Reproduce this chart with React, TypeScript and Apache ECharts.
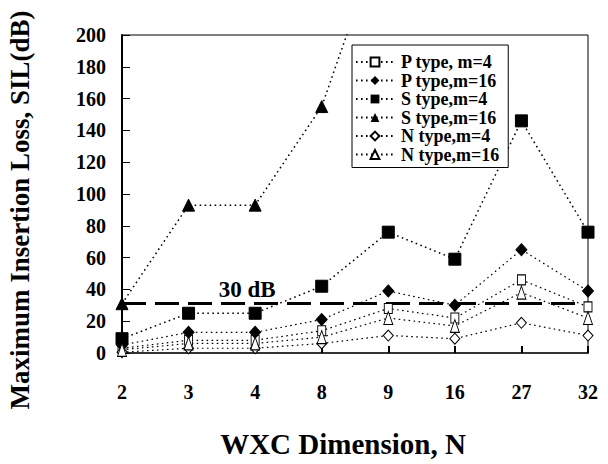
import React, { useEffect, useRef } from "react";
import * as echarts from "echarts";

const categories = ["2", "3", "4", "8", "9", "16", "27", "32"];
const pTypeM4 = [3, 8, 8, 14, 28, 22, 46, 29];
const pTypeM16 = [5, 13, 13, 21, 39, 30, 65, 39];
const sTypeM4 = [9, 25, 25, 42, 76, 59, 146, 76];
const sTypeM16 = [31, 93, 93, 155, 275, null, null, null];
const nTypeM4 = [0.5, 3, 3, 6, 11, 9, 19, 11];
const nTypeM16 = [2, 6, 6, 10, 22, 17, 38, 22];
const yTicks = { min: 0, max: 200, interval: 20 };
const thresholdValue = 31;
const thresholdLabel = "30 dB";

const FONT = "Liberation Serif, serif";

export default function App() {
  const ref = useRef<HTMLDivElement>(null);
  useEffect(() => {
    if (!ref.current) return;
    const chart = echarts.init(ref.current, null, { renderer: "svg" });
    const dotted = (w: number) => ({ color: "#000", width: w, type: [1.6, 3.4] as any });
    const filled = { color: "#000", borderColor: "#000" };
    const open = { color: "#fff", borderColor: "#000", borderWidth: 1 };
    const mk = (name: string, data: any[], symbol: string, size: any, item: any, lw: number, extra: any = {}) => ({
      name,
      type: "line",
      data,
      symbol,
      symbolSize: size,
      itemStyle: item,
      lineStyle: dotted(lw),
      connectNulls: false,
      z: 3,
      ...extra,
    });
    chart.setOption({
      animation: false,
      backgroundColor: "#fff",
      grid: { left: 122, right: 20, top: 35, bottom: 111, show: true, borderColor: "#000", borderWidth: 1 },
      legend: {
        left: 352,
        top: 45,
        orient: "vertical",
        backgroundColor: "#fff",
        borderColor: "#000",
        borderWidth: 1,
        padding: [8, 9, 4, 3],
        itemWidth: 38,
        itemHeight: 11,
        itemGap: 0.5,
        textStyle: { fontFamily: FONT, fontWeight: "bold", fontSize: 18, lineHeight: 18, color: "#000", padding: [0, 0, 0, 2] },
        data: ["P type, m=4", "P type,m=16", "S type,m=4", "S type,m=16", "N type,m=4", "N type,m=16"],
      },
      xAxis: {
        type: "category",
        data: categories,
        boundaryGap: false,
        axisLine: { lineStyle: { color: "#333", width: 2 } },
        axisTick: { inside: true, length: 7, lineStyle: { color: "#000", width: 2 } },
        axisLabel: { fontFamily: FONT, fontWeight: "bold", fontSize: 20, color: "#000", margin: 29 },
        splitLine: { show: false },
      },
      yAxis: {
        type: "value",
        min: yTicks.min,
        max: yTicks.max,
        interval: yTicks.interval,
        axisLine: { show: true, lineStyle: { color: "#000", width: 2 } },
        axisTick: { show: true, inside: true, length: 8, lineStyle: { color: "#000", width: 1 } },
        axisLabel: { fontFamily: FONT, fontWeight: "bold", fontSize: 20, color: "#000", margin: 16 },
        splitLine: { show: false },
      },
      graphic: [
        {
          type: "text",
          x: 20,
          y: 210,
          rotation: Math.PI / 2,
          style: {
            text: "Maximum Insertion Loss, SIL(dB)",
            fontFamily: FONT,
            fontWeight: "bold",
            fontSize: 27,
            fill: "#000",
            textAlign: "center",
            textVerticalAlign: "middle",
          },
        },
        {
          type: "text",
          x: 343,
          y: 444,
          style: {
            text: "WXC Dimension, N",
            fontFamily: FONT,
            fontWeight: "bold",
            fontSize: 29,
            fill: "#000",
            textAlign: "center",
            textVerticalAlign: "middle",
          },
        },
      ],
      series: [
        mk("P type, m=4", pTypeM4, "rect", [8, 10], open, 1.2, {
          markLine: {
            silent: true,
            symbol: ["none", "none"],
            label: { show: false },
            lineStyle: { color: "#000", width: 3, type: [24, 9] },
            data: [{ yAxis: thresholdValue }],
            z: 2,
          },
          markPoint: {
            silent: true,
            symbol: "rect",
            symbolSize: 0,
            data: [
              {
                coord: ["4", 40],
                label: {
                  show: true,
                  formatter: thresholdLabel,
                  fontFamily: FONT,
                  fontWeight: "bold",
                  fontSize: 23,
                  color: "#000",
                  position: "inside",
                  offset: [-8, 0],
                },
              },
            ],
          },
        }),
        mk("P type,m=16", pTypeM16, "diamond", [11, 12], filled, 1.2),
        mk("S type,m=4", sTypeM4, "rect", 12, filled, 1.5),
        mk("S type,m=16", sTypeM16, "triangle", [12, 12], filled, 1.5),
        mk("N type,m=4", nTypeM4, "diamond", [10, 11], open, 1.2),
        mk("N type,m=16", nTypeM16, "triangle", [9, 13], open, 1.2),
      ],
    });
    return () => chart.dispose();
  }, []);
  return <div ref={ref} style={{ position: "fixed", left: 0, top: 0, width: 608, height: 464 }} />;
}
